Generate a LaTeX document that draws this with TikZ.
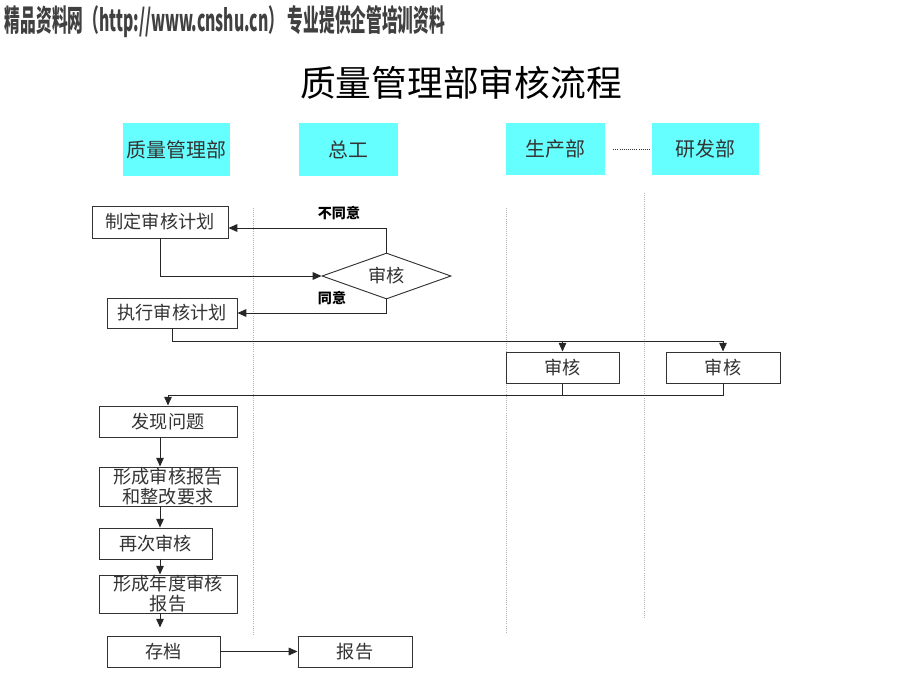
\documentclass[tikz,border=0pt]{standalone}
\usepackage{fontspec}
\usepackage{graphicx}
\setmainfont{Noto Sans CJK SC}
\usetikzlibrary{shapes.geometric,arrows.meta}
\definecolor{lanecyan}{HTML}{66FFFF}
\definecolor{inkgray}{HTML}{333333}
\definecolor{dotgray}{HTML}{B8B0B8}

\begin{document}
\begin{tikzpicture}[
    x=0.03cm, y=-0.03cm,
    lane/.style={rectangle, fill=lanecyan, inner sep=0pt, font=\fontsize{17}{20}\selectfont, text=inkgray},
    stepbox/.style={rectangle, draw=inkgray, line width=0.8pt, fill=white, inner sep=0pt, align=center,
        font=\fontsize{15.5}{17}\selectfont, text=inkgray},
    decide/.style={diamond, draw=inkgray, line width=0.8pt, fill=white, inner sep=0pt,
        font=\fontsize{15.5}{17}\selectfont, text=inkgray},
    arr/.style={-{Triangle[length=7.5pt,width=6.5pt]}, line width=0.8pt, draw=black!85},
    wire/.style={line width=0.8pt, draw=black!85},
    note/.style={font=\bfseries\fontsize{12}{14}\selectfont},
    swim/.style={dotgray, densely dotted, line width=0.8pt}
]
    \useasboundingbox (0,0) rectangle (920,690);

    % page banner and title
    \node (banner) at (225,22) {\resizebox{13.2cm}{0.78cm}{\bfseries\color{black!75}精品资料网（http://www.cnshu.cn） 专业提供企管培训资料}};
    \node (title) at (461,83) {\fontsize{30.5}{33}\selectfont 质量管理部审核流程};

    % lane headers
    \node[lane, minimum width=107*0.03cm, minimum height=53*0.03cm] (hdrQ) at (176.5,149.5) {质量管理部};
    \node[lane, minimum width=99*0.03cm, minimum height=53*0.03cm] (hdrZ) at (348.5,149.5) {总工};
    \node[lane, minimum width=99*0.03cm, minimum height=52*0.03cm] (hdrS) at (555.5,149) {生产部};
    \node[lane, minimum width=107*0.03cm, minimum height=52*0.03cm] (hdrY) at (705.5,149) {研发部};
    \draw[densely dotted, line width=0.8pt, black!80, shorten <=0.24cm, shorten >=0.06cm] (hdrS.east) -- (hdrY.west);

    % lane separators
    \draw[swim] (253,208) -- (253,635);
    \draw[swim] (506,208) -- (506,633);
    \draw[swim] (644,193) -- (644,618);

    % steps
    \node[stepbox, minimum width=136*0.03cm, minimum height=32*0.03cm] (plan) at (160,222) {制定审核计划};
    \node[decide, minimum width=129*0.03cm, minimum height=46*0.03cm, aspect=2.8] (chk) at (386.5,276) {审核};
    \node[stepbox, minimum width=130*0.03cm, minimum height=30*0.03cm] (exe) at (172,313) {执行审核计划};
    \node[stepbox, minimum width=113*0.03cm, minimum height=31*0.03cm] (chkS) at (562.5,367.5) {审核};
    \node[stepbox, minimum width=114*0.03cm, minimum height=31*0.03cm] (chkY) at (723,367.5) {审核};
    \node[stepbox, minimum width=138*0.03cm, minimum height=31*0.03cm] (find) at (168,421.5) {发现问题};
    \node[stepbox, minimum width=138*0.03cm, minimum height=39*0.03cm] (rep) at (168,486.5) {形成审核报告\\和整改要求};
    \node[stepbox, minimum width=113*0.03cm, minimum height=31*0.03cm] (again) at (155.5,543.5) {再次审核};
    \node[stepbox, minimum width=138*0.03cm, minimum height=38*0.03cm] (annual) at (168,594) {形成年度审核\\报告};
    \node[stepbox, minimum width=113*0.03cm, minimum height=31*0.03cm] (arch) at (163.5,651.5) {存档};
    \node[stepbox, minimum width=114*0.03cm, minimum height=31*0.03cm] (rpt) at (355,651.5) {报告};

    \node[note] (lblNo) at (339,213) {不同意};
    \node[note] (lblYes) at (332,298) {同意};

    \coordinate (busA) at (0,341);
    \coordinate (busB) at (0,395);
    \coordinate (spine) at (160,0);

    % review loop
    \draw[arr] (plan.south) |- (chk.west);
    \draw[arr] (chk.north) |- ([yshift=-0.18cm]plan.east);
    \draw[arr] (chk.south) |- (exe.east);

    % out to departments and back
    \draw[arr] (exe.south) |- (busA -| chkY.north) -- (chkY.north);
    \draw[arr] (busA -| chkS.north) -- (chkS.north);
    \draw[arr] (chkY.south) |- (busB -| find.north) -- (find.north);
    \draw[wire] (chkS.south) -- (busB -| chkS.south);

    % down the first lane
    \draw[arr] (find.south -| spine) -- (rep.north -| spine);
    \draw[arr] (rep.south -| spine) -- (again.north -| spine);
    \draw[arr] (again.south -| spine) -- (annual.north -| spine);
    \draw[arr, shorten >=0.24cm] (annual.south -| spine) -- (arch.north -| spine);
    \draw[arr] (arch.east) -- (rpt.west);
\end{tikzpicture}
\end{document}
